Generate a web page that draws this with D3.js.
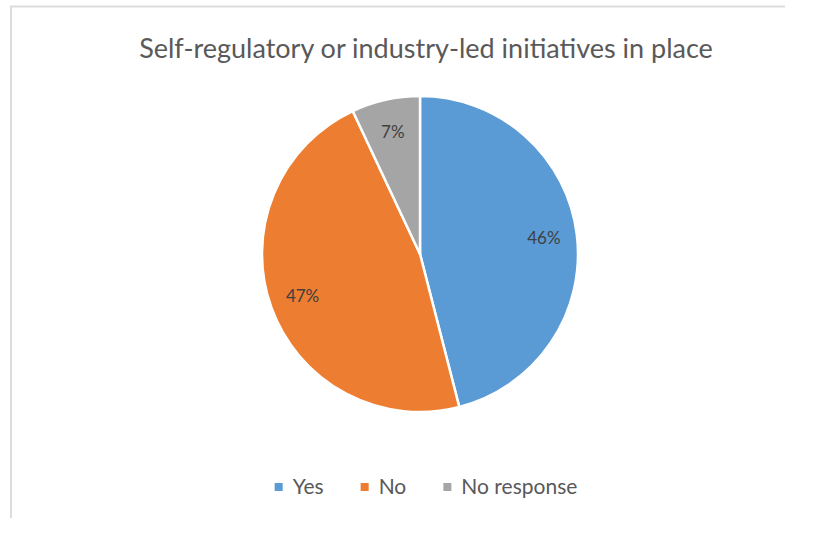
<!DOCTYPE html>
<html>
<head>
<meta charset="utf-8">
<script src="https://cdn.jsdelivr.net/npm/d3@7/dist/d3.min.js"></script>
<style>
  html, body { margin: 0; padding: 0; background: #fff; }
  svg { display: block; }
</style>
</head>
<body>
<svg id="chart" width="831" height="544"></svg>
<script>
// Survey answers and their shares (percent)
const categories = ["Yes", "No", "No response"];
const shares = [46, 47, 7];
const sliceColors = ["#5B9BD5", "#ED7D31", "#A5A5A5"];
const chartTitle = "Self-regulatory or industry-led initiatives in place";

const W = 831, H = 544;
const font = "Lato, 'Open Sans', sans-serif";
const textColor = "#595959";

const svg = d3.select("#chart");

// chart area frame (light top and left edges)
svg.append("line").attr("x1", 10).attr("x2", 785).attr("y1", 6.5).attr("y2", 6.5)
  .attr("stroke", "#dcdcdc").attr("stroke-width", 2);
svg.append("line").attr("x1", 11).attr("x2", 11).attr("y1", 6).attr("y2", 518)
  .attr("stroke", "#dcdcdc").attr("stroke-width", 2);

// title
svg.append("text")
  .attr("x", 426).attr("y", 58)
  .attr("text-anchor", "middle")
  .attr("font-family", font).attr("font-size", 27)
  .attr("fill", textColor)
  .text(chartTitle);

// pie
const cx = 420, cy = 254, R = 158;
const color = d3.scaleOrdinal().domain(categories).range(sliceColors);
const data = categories.map((c, i) => ({ cat: c, value: shares[i] }));
const pie = d3.pie().value(d => d.value).sort(null);
const arcs = pie(data);
const arc = d3.arc().innerRadius(0).outerRadius(R);
const labelArc = d3.arc().innerRadius(R * 0.79).outerRadius(R * 0.79);

const g = svg.append("g").attr("transform", `translate(${cx},${cy})`);
g.selectAll("path.slice").data(arcs).join("path")
  .attr("class", "slice")
  .attr("d", arc)
  .attr("fill", d => color(d.data.cat))
  .attr("stroke", "#fff")
  .attr("stroke-width", 2.5)
  .attr("stroke-linejoin", "round");

g.selectAll("text.pct").data(arcs).join("text")
  .attr("class", "pct")
  .attr("transform", d => {
    const [x, y] = labelArc.centroid(d);
    return `translate(${x},${y})`;
  })
  .attr("text-anchor", "middle")
  .attr("dy", "0.35em")
  .attr("font-family", font).attr("font-size", 17)
  .attr("fill", "#404040")
  .text(d => d.data.value + "%");

// legend
const legendY = 487;
const legend = svg.append("g");
const items = legend.selectAll("g.item").data(categories).join("g").attr("class", "item");
items.append("rect")
  .attr("width", 8).attr("height", 8)
  .attr("y", legendY - 4)
  .attr("fill", d => color(d));
items.append("text")
  .attr("x", 18).attr("y", legendY).attr("dy", "0.35em")
  .attr("font-family", font).attr("font-size", 21)
  .attr("fill", textColor)
  .text(d => d);

// lay legend items out in a centred row
const gap = 37;
let widths = [];
items.each(function () { widths.push(this.getBBox().width); });
const total = d3.sum(widths) + gap * (widths.length - 1);
let x0 = 426 - total / 2;
items.attr("transform", (d, i) => {
  const t = `translate(${x0},0)`;
  x0 += widths[i] + gap;
  return t;
});
</script>
</body>
</html>
